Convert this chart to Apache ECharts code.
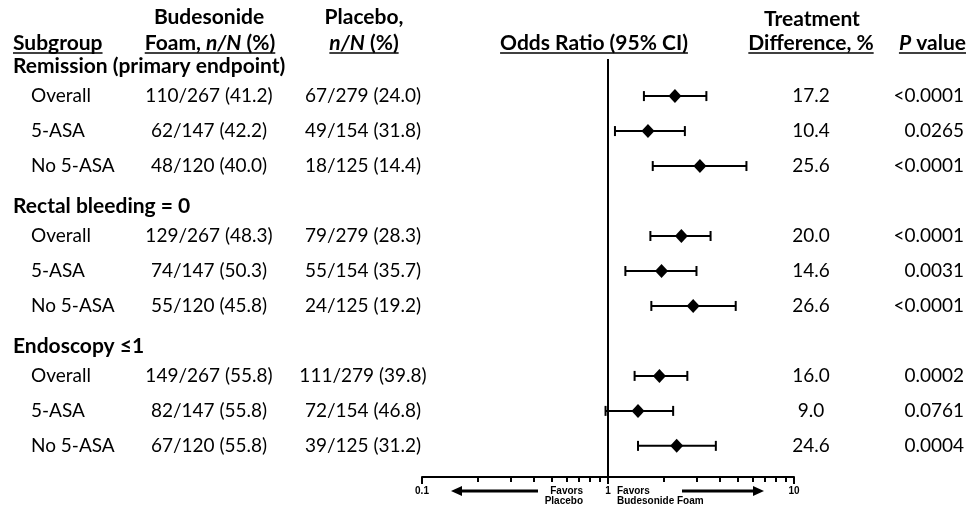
<!DOCTYPE html>
<html>
<head>
<meta charset="utf-8">
<script src="https://cdn.jsdelivr.net/npm/echarts@6/dist/echarts.min.js"></script>
<style>
html, body { margin: 0; padding: 0; background: #fff; }
#chart { width: 971px; height: 506px; }
</style>
</head>
<body>
<div id="chart"></div>
<script>
const groups = ['Remission (primary endpoint)', 'Rectal bleeding = 0', 'Endoscopy \u22641'];
const subgroups = ['Overall', '5-ASA', 'No 5-ASA'];
const budesonide = ['110/267 (41.2)', '62/147 (42.2)', '48/120 (40.0)',
  '129/267 (48.3)', '74/147 (50.3)', '55/120 (45.8)',
  '149/267 (55.8)', '82/147 (55.8)', '67/120 (55.8)'];
const placebo = ['67/279 (24.0)', '49/154 (31.8)', '18/125 (14.4)',
  '79/279 (28.3)', '55/154 (35.7)', '24/125 (19.2)',
  '111/279 (39.8)', '72/154 (46.8)', '39/125 (31.2)'];
const oddsRatio = [2.29, 1.64, 3.12, 2.48, 1.94, 2.87, 1.89, 1.45, 2.34];
const ciLow = [1.56, 1.09, 1.74, 1.69, 1.24, 1.71, 1.39, 0.97, 1.45];
const ciHigh = [3.38, 2.59, 5.55, 3.56, 2.99, 4.86, 2.67, 2.24, 3.80];
const treatDiff = ['17.2', '10.4', '25.6', '20.0', '14.6', '26.6', '16.0', '9.0', '24.6'];
const pValues = ['<0.0001', '0.0265', '<0.0001', '<0.0001', '0.0031', '<0.0001', '0.0002', '0.0761', '0.0004'];
const majorTicks = [0.1, 1, 10];
const minorTicks = [0.2, 0.3, 0.4, 0.5, 0.6, 0.7, 0.8, 0.9, 2, 3, 4, 5, 6, 7, 8, 9];

const FONT = 'Lato, "Open Sans", sans-serif';
const SIZE = 19;
const BSIZE = 21;

// row slot on the y axis: each group = header + 3 subgroup rows
const rowIdx = i => Math.floor(i / 3) * 4 + (i % 3) + 1;
const dataRows = budesonide.map((_, i) => rowIdx(i));
const headRows = groups.map((_, g) => g * 4);
const subLabels = budesonide.map((_, i) => subgroups[i % 3]);

const chart = echarts.init(document.getElementById('chart'));

function textColumn(texts, rows, x, align, bold, dy) {
  return {
    type: 'custom',
    silent: true,
    data: rows.map(r => [1, r]),
    encode: { x: 0, y: 1 },
    renderItem: (params, api) => {
      const p = api.coord([1, api.value(1)]);
      return {
        type: 'text',
        x: x,
        y: p[1] + (dy || 0),
        style: {
          text: texts[params.dataIndex],
          align: align,
          verticalAlign: 'middle',
          fill: '#000',
          font: bold ? 'bold ' + BSIZE + 'px ' + FONT : SIZE + 'px ' + FONT
        }
      };
    }
  };
}

// header texts with underline measured from the canvas
const ctx = document.createElement('canvas').getContext('2d');
function measure(parts) {
  let w = 0;
  parts.forEach(p => {
    ctx.font = (p[1] ? 'italic ' : '') + 'bold ' + BSIZE + 'px ' + FONT;
    w += ctx.measureText(p[0]).width;
  });
  return w;
}
function header(parts, x, y, align, underline) {
  const w = measure(parts);
  const left = align === 'left' ? x : align === 'center' ? x - w / 2 : x - w;
  const els = [{
    type: 'text', x: left, y: y,
    style: {
      text: parts.map(p => '{' + (p[1] ? 'i' : 'b') + '|' + p[0] + '}').join(''),
      verticalAlign: 'middle', align: 'left',
      rich: {
        b: { font: 'bold ' + BSIZE + 'px ' + FONT, fill: '#000' },
        i: { font: 'italic bold ' + BSIZE + 'px ' + FONT, fill: '#000' }
      }
    }
  }];
  if (underline) {
    els.push({ type: 'line', shape: { x1: left, y1: y + 10, x2: left + w, y2: y + 10 },
      style: { stroke: '#000', lineWidth: 1.5 } });
  }
  return els;
}

const small = 'bold 10px "Liberation Sans Narrow", "Liberation Sans", Arial, sans-serif';
const graphics = [].concat(
  header([['Subgroup']], 13, 43, 'left', true),
  header([['Budesonide']], 209, 17, 'center', false),
  header([['Foam, '], ['n/N', 1], [' (%)']], 210, 43, 'center', true),
  header([['Placebo,']], 364, 17, 'center', false),
  header([['n/N', 1], [' (%)']], 364, 43, 'center', true),
  header([['Odds Ratio (95% CI)']], 594, 43, 'center', true),
  header([['Treatment']], 812, 19, 'center', false),
  header([['Difference, %']], 811, 43, 'center', true),
  header([['P', 1], [' value']], 966, 43, 'right', true),
  [
    { type: 'text', x: 583, y: 486, style: { text: 'Favors\nPlacebo', align: 'right', verticalAlign: 'top', font: small, fill: '#000', lineHeight: 10 } },
    { type: 'text', x: 617, y: 486, style: { text: 'Favors\nBudesonide Foam', align: 'left', verticalAlign: 'top', font: small, fill: '#000', lineHeight: 10 } },
    { type: 'line', shape: { x1: 538, y1: 491, x2: 460, y2: 491 }, style: { stroke: '#000', lineWidth: 3 } },
    { type: 'polygon', shape: { points: [[451, 491], [462, 486], [462, 496]] }, style: { fill: '#000' } },
    { type: 'line', shape: { x1: 682, y1: 491, x2: 754, y2: 491 }, style: { stroke: '#000', lineWidth: 3 } },
    { type: 'polygon', shape: { points: [[764, 491], [753, 486], [753, 496]] }, style: { fill: '#000' } }
  ]
);

const plotGrid = { left: 422, right: 177, top: 59, bottom: 29 };
const rowAxis = { type: 'value', inverse: true, min: -0.06, max: 11.89, show: false };

const option = {
  backgroundColor: '#fff',
  animation: false,
  // second grid is the same box, only used for the minor ticks
  grid: [plotGrid, Object.assign({}, plotGrid)],
  xAxis: [{
    type: 'log',
    logBase: 10,
    min: 0.1,
    max: 10,
    position: 'bottom',
    axisLine: { show: true, onZero: false, lineStyle: { color: '#000', width: 2 } },
    axisTick: { show: true, length: 7, customValues: majorTicks, lineStyle: { color: '#000', width: 2 } },
    axisLabel: { customValues: majorTicks, margin: 9, color: '#000', fontSize: 10, fontWeight: 'bold',
      fontFamily: '"Liberation Sans Narrow", "Liberation Sans", Arial, sans-serif' },
    splitLine: { show: false }
  }, {
    gridIndex: 1,
    type: 'log',
    logBase: 10,
    min: 0.1,
    max: 10,
    position: 'bottom',
    axisLine: { show: false, onZero: false },
    axisTick: { show: true, length: 5, customValues: minorTicks, lineStyle: { color: '#000', width: 2 } },
    axisLabel: { show: false },
    splitLine: { show: false }
  }],
  yAxis: [rowAxis, Object.assign({ gridIndex: 1 }, rowAxis)],
  graphic: graphics,
  series: [
    {
      type: 'custom',
      name: 'CI',
      data: oddsRatio.map((_, i) => [ciLow[i], ciHigh[i], dataRows[i]]),
      encode: { x: [0, 1], y: 2 },
      renderItem: (params, api) => {
        const lo = api.coord([api.value(0), api.value(2)]);
        const hi = api.coord([api.value(1), api.value(2)]);
        const h = 5;
        const st = { stroke: '#000', lineWidth: 2 };
        return {
          type: 'group',
          children: [
            { type: 'line', shape: { x1: lo[0], y1: lo[1], x2: hi[0], y2: hi[1] }, style: st },
            { type: 'line', shape: { x1: lo[0], y1: lo[1] - h, x2: lo[0], y2: lo[1] + h }, style: st },
            { type: 'line', shape: { x1: hi[0], y1: hi[1] - h, x2: hi[0], y2: hi[1] + h }, style: st }
          ]
        };
      },
      markLine: {
        silent: true,
        symbol: 'none',
        label: { show: false },
        lineStyle: { color: '#000', width: 2, type: 'solid' },
        data: [{ xAxis: 1 }]
      }
    },
    {
      type: 'scatter',
      name: 'Odds ratio',
      symbol: 'diamond',
      symbolSize: [13, 14],
      itemStyle: { color: '#000', opacity: 1 },
      data: oddsRatio.map((v, i) => [v, dataRows[i]]),
      z: 5
    },
    textColumn(groups, headRows, 13, 'left', true, 5),
    textColumn(subLabels, dataRows, 31, 'left', false),
    textColumn(budesonide, dataRows, 209, 'center', false),
    textColumn(placebo, dataRows, 363, 'center', false),
    textColumn(treatDiff, dataRows, 811, 'center', false),
    textColumn(pValues, dataRows, 964, 'right', false)
  ]
};

chart.setOption(option);
window.addEventListener('resize', () => chart.resize());
</script>
</body>
</html>
